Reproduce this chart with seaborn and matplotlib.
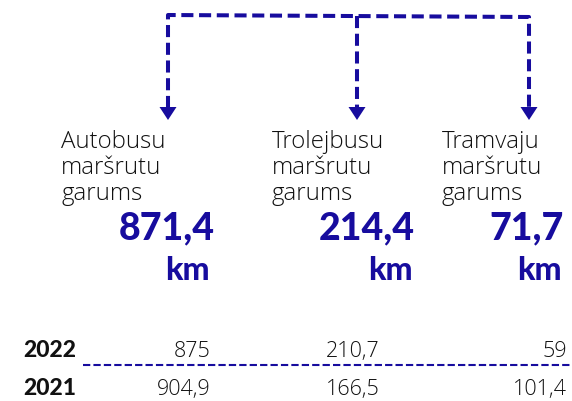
import matplotlib
matplotlib.use("Agg")
import matplotlib.pyplot as plt
import seaborn as sns

# ---- data ----
categories = ["Autobusu\nmaršrutu\ngarums", "Trolejbusu\nmaršrutu\ngarums", "Tramvaju\nmaršrutu\ngarums"]
totals = [871.4, 214.4, 71.7]
unit = "km"
years = ["2022", "2021"]
values_2022 = [875, 210.7, 59]
values_2021 = [904.9, 166.5, 101.4]

# ---- layout (pixel coords) ----
W, H = 572, 401
label_x = [61, 272, 442]
num_right = [215, 415, 564]
unit_right = [210, 413, 562]
arrow_x = [168, 357, 529]
value_right = [211, 380, 567]
year_x = 76
top_y = [15, 16, 17]

BLUE = "#170c9e"
BLACK = "#111111"
FONT = "Lato"
LIGHT = "Open Sans"

def fmt(v):
    s = f"{v:g}"
    return s.replace(".", ",")

sns.set_theme(style="white")
plt.rcParams["font.family"] = [FONT, "DejaVu Sans"]

fig = plt.figure(figsize=(W / 100, H / 100), dpi=100)
ax = fig.add_axes([0, 0, 1, 1])
ax.set_xlim(0, W)
ax.set_ylim(H, 0)
ax.axis("off")

# connector lines
lw = 2.9
ds = (3.0, 1.4)
ax.plot([arrow_x[0], arrow_x[0], arrow_x[2], arrow_x[2]],
        [108, top_y[0], top_y[2], 108], color=BLUE, lw=lw,
        dashes=ds, solid_capstyle="butt", dash_capstyle="butt")
ax.plot([arrow_x[1], arrow_x[1]], [top_y[1], 108], color=BLUE, lw=lw,
        dashes=ds, dash_capstyle="butt")
for x in arrow_x:
    ax.fill([x - 8.5, x + 8.5, x], [107, 107, 120], color=BLUE, lw=0)

# labels and totals
for i, cat in enumerate(categories):
    for j, line in enumerate(cat.split("\n")):
        ax.text(label_x[i], 148 + 26 * j, line, fontsize=17.3, fontweight=300,
                family=[LIGHT, "DejaVu Sans"], color=BLACK, va="baseline", ha="left")
    ax.text(num_right[i], 239, fmt(totals[i]), fontsize=27, fontweight="black",
            color=BLUE, va="baseline", ha="right")
    ax.text(unit_right[i], 280, unit, fontsize=23, fontweight="black",
            color=BLUE, va="baseline", ha="right")

# year rows
rows = [values_2022, values_2021]
row_base = [357, 395]
for r, (yr, vals) in enumerate(zip(years, rows)):
    ax.text(year_x, row_base[r], yr, fontsize=16.5, fontweight="black",
            color=BLACK, va="baseline", ha="right")
    for i, v in enumerate(vals):
        ax.text(value_right[i], row_base[r], fmt(v), fontsize=15.5, fontweight=300,
                family=[LIGHT, "DejaVu Sans"], color=BLACK, va="baseline", ha="right")

ax.plot([83, W], [365, 365], color=BLUE, lw=1.5, dashes=(3.5, 1.5))

fig.savefig("out.png", dpi=100)
